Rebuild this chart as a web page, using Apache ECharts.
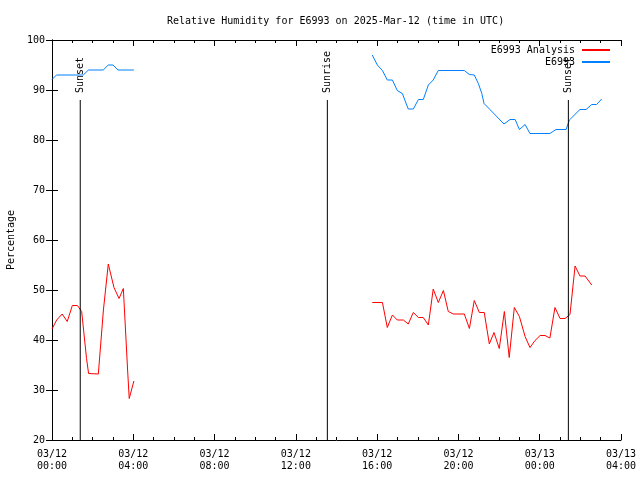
<!DOCTYPE html>
<html><head><meta charset="utf-8">
<script src="https://cdn.jsdelivr.net/npm/echarts@6/dist/echarts.min.js"></script>
<style>html,body{margin:0;padding:0;background:#fff}#c{width:640px;height:480px}</style>
</head><body><div id="c"></div>
<script>
// time in hours since 03/12 00:00 UTC
var analysisTimes = [0,0.23,0.5,0.75,1.0,1.25,1.46,1.7,1.8,2.28,2.53,2.77,3.05,3.3,3.51,3.72,3.8,4.03,
  null,
  15.76,16.26,16.5,16.75,16.99,17.29,17.53,17.78,18.03,18.27,18.52,18.76,19.01,19.26,19.5,19.75,20.29,20.54,20.78,21.03,21.27,21.52,21.75,22.01,22.26,22.5,22.75,23.0,23.28,23.52,23.77,24.02,24.26,24.5,24.75,25.0,25.25,25.49,25.74,25.98,26.23,26.56];
var analysisValues = [42.2,44,45.2,43.7,46.9,46.9,45.7,36.3,33.3,33.2,46,55.2,50.5,48.3,50.3,34,28.3,31.8,
  null,
  47.5,47.5,42.5,45,44,44,43.2,45.5,44.5,44.5,43,50.2,47.5,49.9,45.7,45.2,45.2,42.3,47.9,45.5,45.5,39.2,41.5,38.3,45.7,36.5,46.5,44.7,40.7,38.5,39.9,40.9,40.9,40.4,46.5,44.3,44.3,45.1,54.8,52.8,52.8,51];
var obsTimes = [0,0.22,1.54,1.79,2.52,2.77,3.0,3.25,4.03,
  null,
  15.76,16.01,16.26,16.5,16.75,16.99,17.24,17.53,17.78,18.03,18.27,18.52,18.76,19.01,20.29,20.54,20.78,20.98,21.15,21.26,21.55,22.24,22.54,22.79,23.0,23.28,23.52,24.5,24.8,25.3,25.46,25.98,26.28,26.56,26.8,27.05];
var obsValues = [92.1,93,93,94,94,95,95,94,94,
  null,
  97,95,93.9,92,92,89.9,89.3,86.2,86.2,88.1,88.1,91,92,93.9,93.9,93.1,93,91.3,89.3,87.3,86.1,83.2,84.1,84.1,82.1,83.1,81.3,81.3,82.1,82.1,84,86.1,86.1,87.1,87.1,88.2];
var sunNames = ['Sunset','Sunrise','Sunset'];
var sunTimes = [1.39, 13.55, 25.41];
var xTickLabels = ['03/12\n00:00','03/12\n04:00','03/12\n08:00','03/12\n12:00','03/12\n16:00','03/12\n20:00','03/13\n00:00','03/13\n04:00'];

function pairs(t, v){ return t.map(function(x,i){ return x===null ? [null,null] : [x, v[i]]; }); }
var FONT = 'DejaVu Sans Mono';
var chart = echarts.init(document.getElementById('c'), null, {renderer:'canvas'});
function tk(){ return {show:true, inside:true, length:6, lineStyle:{color:'#000', width:1}}; }
function mt(){ return {show:true, splitNumber:4, length:3, lineStyle:{color:'#000', width:1}}; }
chart.setOption({
  animation:false,
  backgroundColor:'#fff',
  textStyle:{fontFamily:FONT},
  title:{text:'Relative Humidity for E6993 on 2025-Mar-12 (time in UTC)', left:162, top:11,
    textStyle:{fontFamily:FONT, fontSize:10, fontWeight:'normal', color:'#000'}},
  legend:{orient:'vertical', right:25, top:40, align:'right', itemWidth:28, itemHeight:2, itemGap:2,
    icon:'rect', textStyle:{fontFamily:FONT, fontSize:10, color:'#000', padding:[0,2,0,0]},
    data:['E6993 Analysis','E6993']},
  grid:{left:52, right:19, top:40, bottom:40, show:false, containLabel:false, outerBoundsMode:'none'},
  xAxis:[{type:'value', min:0, max:28, interval:4, position:'bottom',
      axisLine:{lineStyle:{color:'#000', width:1}}, axisTick:tk(), minorTick:mt(),
      splitLine:{show:false}, minorSplitLine:{show:false},
      axisLabel:{color:'#000', fontFamily:FONT, fontSize:10, lineHeight:12, margin:8,
        formatter:function(v){ return xTickLabels[Math.round(v/4)]; }}},
    {type:'value', min:0, max:28, interval:4, position:'top',
      axisLine:{lineStyle:{color:'#000', width:1}}, axisTick:tk(), minorTick:mt(),
      splitLine:{show:false}, axisLabel:{show:false}}],
  yAxis:[{type:'value', min:20, max:100, interval:10, position:'left',
      name:'Percentage', nameLocation:'middle', nameGap:36, nameRotate:90,
      nameTextStyle:{fontFamily:FONT, fontSize:10, color:'#000'},
      axisLine:{show:true, lineStyle:{color:'#000', width:1}}, axisTick:tk(), splitLine:{show:false},
      axisLabel:{color:'#000', fontFamily:FONT, fontSize:10, margin:7}},
    {type:'value', min:20, max:100, interval:10, position:'right',
      axisLine:{show:true, lineStyle:{color:'#000', width:1}}, axisTick:tk(), splitLine:{show:false},
      axisLabel:{show:false}}],
  series:[
    {name:'E6993 Analysis', type:'line', data:pairs(analysisTimes, analysisValues), showSymbol:false,
      symbol:'none', connectNulls:false, color:'#ff0000', lineStyle:{width:1, color:'#ff0000'}, z:3},
    {name:'E6993', type:'line', data:pairs(obsTimes, obsValues), showSymbol:false,
      symbol:'none', connectNulls:false, color:'#0080ff', lineStyle:{width:1, color:'#0080ff'}, z:3},
    {type:'custom', name:'sun', silent:true, z:4,
      data:sunTimes.map(function(t,i){ return [t, i]; }),
      renderItem:function(params, api){
        var t = api.value(0), i = api.value(1);
        var top = api.coord([t, 88]), bot = api.coord([t, 20]);
        return {type:'group', children:[
          {type:'line', shape:{x1:top[0], y1:top[1], x2:bot[0], y2:bot[1]}, style:{stroke:'#000', lineWidth:1}},
          {type:'text', x:top[0], y:top[1]-7, rotation:Math.PI/2,
            style:{text:sunNames[i], align:'left', verticalAlign:'middle', fill:'#000', font:'10px "'+FONT+'"'}}
        ]};
      }}
  ]
});
</script></body></html>
